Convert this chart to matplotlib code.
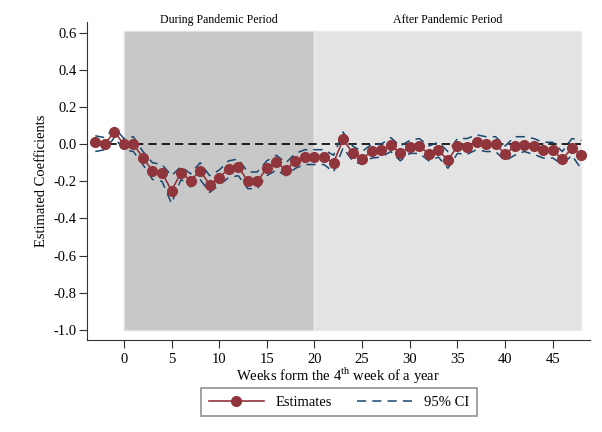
import numpy as np
import matplotlib
matplotlib.use('Agg')
import matplotlib.pyplot as plt

plt.rcParams['font.family'] = ['Liberation Serif', 'DejaVu Serif']
plt.rcParams['mathtext.fontset'] = 'custom'
plt.rcParams['mathtext.rm'] = 'Liberation Serif'
plt.rcParams['axes.unicode_minus'] = False

# weeks relative to 4th week of the year
weeks = list(range(-3, 49))
estimates = [0.01, 0.0, 0.066, 0.0, 0.0, -0.073, -0.143, -0.154, -0.25, -0.154,
             -0.196, -0.143, -0.218, -0.182, -0.132, -0.121, -0.2, -0.2, -0.13, -0.098,
             -0.139, -0.089, -0.068, -0.068, -0.071, -0.1, 0.025, -0.048, -0.079, -0.038,
             -0.034, -0.004, -0.048, -0.016, -0.011, -0.052, -0.034, -0.086, -0.011, -0.014,
             0.009, -0.002, 0.002, -0.055, -0.012, -0.004, -0.012, -0.034, -0.034, -0.08,
             -0.023, -0.057]
ci_upper = [0.045, 0.035, 0.09, 0.03, 0.04, -0.04, -0.1, -0.11, -0.17, -0.12,
            -0.16, -0.1, -0.17, -0.14, -0.09, -0.08, -0.15, -0.15, -0.09, -0.06,
            -0.1, -0.05, -0.03, -0.03, -0.03, -0.06, 0.065, -0.01, -0.04, 0.0,
            0.0, 0.035, -0.01, 0.02, 0.03, -0.01, 0.01, -0.04, 0.03, 0.03,
            0.05, 0.04, 0.04, -0.01, 0.04, 0.04, 0.03, 0.01, 0.01, -0.04,
            0.03, 0.02]
ci_lower = [-0.04, -0.03, 0.035, -0.03, -0.04, -0.11, -0.19, -0.2, -0.32, -0.19,
            -0.23, -0.19, -0.26, -0.22, -0.18, -0.17, -0.24, -0.24, -0.17, -0.14,
            -0.17, -0.13, -0.11, -0.11, -0.11, -0.15, -0.02, -0.09, -0.11, -0.075,
            -0.07, -0.04, -0.09, -0.05, -0.05, -0.09, -0.07, -0.13, -0.05, -0.055,
            -0.03, -0.04, -0.04, -0.09, -0.06, -0.04, -0.055, -0.075, -0.075, -0.11,
            -0.06, -0.135]

during_period = [0, 20]
after_period = [20, 48]
period_labels = ['During Pandemic Period', 'After Pandemic Period']
yticks = [-1.0, -0.8, -0.6, -0.4, -0.2, 0.0, 0.2, 0.4, 0.6]

red = '#90353b'
navy = '#1a476f'

fig = plt.figure(figsize=(6.02, 4.32), dpi=100)
ax = fig.add_axes([0.144, 0.213, 0.836, 0.737])

ax.fill_between(during_period, -1.0, 0.61, color='#c8c8c8', edgecolor='#e0e0e0', lw=1, zorder=0)
ax.fill_between(after_period, -1.0, 0.61, color='#e3e3e3', edgecolor='#ececec', lw=1, zorder=0)
ax.text(np.mean(during_period), 0.635, period_labels[0], ha='center', va='bottom', fontsize=8.6)
ax.text(np.mean(after_period), 0.635, period_labels[1], ha='center', va='bottom', fontsize=8.6)

ax.plot([weeks[0], weeks[-1]], [0, 0], color='black', ls=(0, (5, 3)), lw=1.2, zorder=1)
ax.plot(weeks, ci_upper, color=navy, ls=(0, (6, 4)), lw=1.1, zorder=2, label='95% CI')
ax.plot(weeks, ci_lower, color=navy, ls=(0, (6, 4)), lw=1.1, zorder=2)
ax.plot(weeks, estimates, color=red, lw=1.2, marker='o', ms=7, zorder=3, label='Estimates')

ax.set_xlim(-3.9, 48.9)
ax.set_ylim(-1.055, 0.66)
ax.set_xticks(range(0, 46, 5))
ax.set_yticks(yticks)
ax.set_yticklabels([f'{v:.1f}' for v in yticks])
ax.tick_params(labelsize=10.5, color='#333333', length=6)
ax.tick_params(axis='y', pad=1.5)
for s in ['top', 'right']:
    ax.spines[s].set_visible(False)
for s in ['left', 'bottom']:
    ax.spines[s].set_color('#333333')

ax.set_xlabel('Weeks form the 4$^{\\mathrm{th}}$ week of a year', fontsize=10.5, labelpad=0)
ax.set_ylabel('Estimated Coefficients', fontsize=10.5)

h, l = ax.get_legend_handles_labels()
leg = fig.legend(h[::-1], l[::-1], loc='center', bbox_to_anchor=(0.563, 0.069), ncol=2,
                 fontsize=10.5, frameon=True, fancybox=False, edgecolor='#777777',
                 handlelength=3.8, columnspacing=1.7, borderpad=0.5)
leg.get_frame().set_linewidth(1.2)

fig.savefig('out.png', dpi=100)
